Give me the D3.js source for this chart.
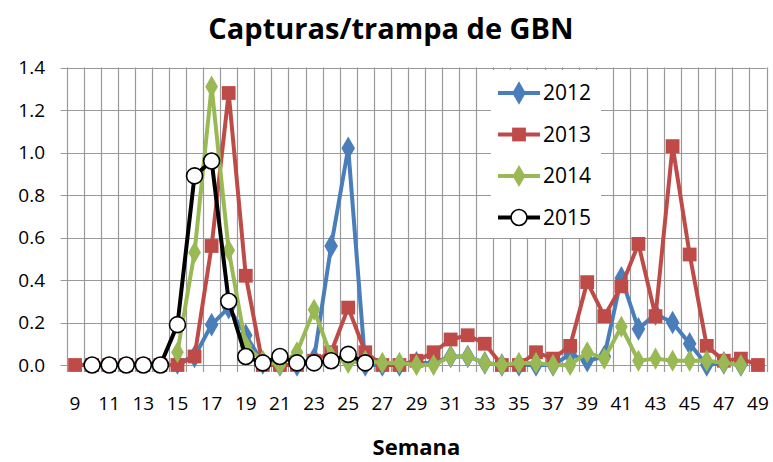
<!DOCTYPE html>
<html>
<head>
<meta charset="utf-8">
<script src="https://cdn.jsdelivr.net/npm/d3@7"></script>
<style>
  body { margin: 0; background: #fff; }
  text { font-family: "Open Sans", "Liberation Sans", sans-serif; fill: #000; }
</style>
</head>
<body>
<div id="chart"></div>
<script>
var weeks = [9, 10, 11, 12, 13, 14, 15, 16, 17, 18, 19, 20, 21, 22, 23, 24, 25, 26, 27, 28, 29,
             30, 31, 32, 33, 34, 35, 36, 37, 38, 39, 40, 41, 42, 43, 44, 45, 46, 47, 48, 49];
var weekLabels = [9, 11, 13, 15, 17, 19, 21, 23, 25, 27, 29, 31, 33, 35, 37, 39, 41, 43, 45, 47, 49];
var yTicks = [0, 0.2, 0.4, 0.6, 0.8, 1.0, 1.2, 1.4];

// values per week (9..49), null = no sample
var v2012 = [null, null, null, null, null, null, 0.01, 0.04, 0.19, 0.27, 0.14, 0.01, 0.0, 0.0, 0.03, 0.56, 1.02, 0.0, 0.0, 0.0, 0.01,
             0.01, 0.04, 0.04, 0.01, 0.0, 0.0, 0.0, 0.0, 0.05, 0.02, 0.04, 0.41, 0.17, 0.24, 0.20, 0.10, 0.0, 0.01, 0.0, null];
var v2013 = [0, 0, 0, 0, 0, 0, 0, 0.04, 0.56, 1.28, 0.42, 0.0, 0.0, 0.0, 0.02, 0.06, 0.27, 0.06, 0.0, 0.0, 0.02,
             0.06, 0.12, 0.14, 0.10, 0.0, 0.0, 0.06, 0.03, 0.09, 0.39, 0.23, 0.37, 0.57, 0.23, 1.03, 0.52, 0.09, 0.02, 0.03, 0.0];
var v2014 = [null, null, null, null, null, null, 0.06, 0.53, 1.31, 0.54, 0.09, 0.02, 0.0, 0.06, 0.26, 0.04, 0.01, 0.02, 0.01, 0.01, 0.0,
             0.0, 0.04, 0.04, 0.01, 0.0, 0.01, 0.01, 0.0, 0.0, 0.06, 0.03, 0.18, 0.02, 0.03, 0.02, 0.02, 0.02, 0.01, 0.0, null];
var v2015 = [null, 0, 0, 0, 0, 0, 0.19, 0.89, 0.96, 0.30, 0.04, 0.01, 0.04, 0.01, 0.01, 0.02, 0.05, 0.01, null, null, null,
             null, null, null, null, null, null, null, null, null, null, null, null, null, null, null, null, null, null, null, null];

var series = [
  { name: "2012", values: v2012, color: "#4a7ebb", marker: "diamond", size: 160 },
  { name: "2013", values: v2013, color: "#be4b48", marker: "square", size: 190 },
  { name: "2014", values: v2014, color: "#98b954", marker: "diamond", size: 140 },
  { name: "2015", values: v2015, color: "#000000", marker: "circle", size: 200 }
];

var width = 773, height = 462;
var plotLeft = 66.5, plotRight = 766.5, plotTop = 67.5, plotBottom = 365;

var svg = d3.select("#chart").append("svg")
    .attr("width", width)
    .attr("height", height);

var x = d3.scaleBand().domain(weeks).range([plotLeft, plotRight]).padding(0);
var y = d3.scaleLinear().domain([0, 1.4]).range([plotBottom, plotTop]);
var cx = function(w) { return x(w) + x.bandwidth() / 2; };

// horizontal gridlines
svg.append("g")
  .selectAll("line")
  .data(yTicks)
  .enter().append("line")
    .attr("x1", plotLeft - 6).attr("x2", plotRight)
    .attr("y1", function(d) { return Math.round(y(d)) + 0.5; })
    .attr("y2", function(d) { return Math.round(y(d)) + 0.5; })
    .attr("stroke", "#999")
    .attr("stroke-width", 1.2);

// vertical gridlines at category borders
var borders = weeks.map(function(w) { return x(w); }).concat([plotRight]);
svg.append("g")
  .selectAll("line")
  .data(borders)
  .enter().append("line")
    .attr("x1", function(d) { return Math.round(d) + 0.5; })
    .attr("x2", function(d) { return Math.round(d) + 0.5; })
    .attr("y1", plotTop).attr("y2", plotBottom + 7)
    .attr("stroke", "#999")
    .attr("stroke-width", 1.2);

// y tick labels
svg.append("g")
  .selectAll("text")
  .data(yTicks)
  .enter().append("text")
    .attr("x", 45)
    .attr("y", function(d) { return y(d); })
    .attr("dy", "0.35em")
    .attr("text-anchor", "end")
    .style("font-size", "19px")
    .text(d3.format(".1f"));

// x tick labels
svg.append("g")
  .selectAll("text")
  .data(weekLabels)
  .enter().append("text")
    .attr("x", function(d) { return cx(d); })
    .attr("y", 410)
    .attr("text-anchor", "middle")
    .style("font-size", "19px")
    .text(function(d) { return d; });

// titles
svg.append("text")
  .attr("x", 391).attr("y", 39)
  .attr("text-anchor", "middle")
  .style("font-size", "29px").style("font-weight", "bold")
  .text("Capturas/trampa de GBN");

svg.append("text")
  .attr("x", (plotLeft + plotRight) / 2).attr("y", 455)
  .attr("text-anchor", "middle")
  .style("font-size", "22px").style("font-weight", "bold")
  .text("Semana");

var symbolType = { diamond: d3.symbolDiamond, square: d3.symbolSquare, circle: d3.symbolCircle };

function drawMarker(sel, s) {
  sel.attr("d", d3.symbol().type(symbolType[s.marker]).size(s.size))
    .attr("fill", s.marker === "circle" ? "#fff" : s.color)
    .attr("stroke", s.marker === "circle" ? "#000" : "none")
    .attr("stroke-width", 1.6);
}

var line = d3.line()
  .defined(function(d) { return d.v !== null; })
  .x(function(d) { return cx(d.w); })
  .y(function(d) { return y(d.v); });

series.forEach(function(s) {
  var pts = weeks.map(function(w, i) { return { w: w, v: s.values[i] }; });
  var g = svg.append("g");
  g.append("path")
    .datum(pts)
    .attr("fill", "none")
    .attr("stroke", s.color)
    .attr("stroke-width", 4)
    .attr("stroke-linejoin", "round")
    .attr("d", line);
  g.selectAll("path.m")
    .data(pts.filter(function(d) { return d.v !== null; }))
    .enter().append("path")
      .attr("class", "m")
      .attr("transform", function(d) { return "translate(" + cx(d.w) + "," + y(d.v) + ")"; })
      .call(drawMarker, s);
});

// legend
var legend = svg.append("g").attr("transform", "translate(491,70)");
legend.append("rect")
  .attr("width", 110).attr("height", 168)
  .attr("fill", "#fff");

var item = legend.selectAll("g.item")
  .data(series)
  .enter().append("g")
    .attr("class", "item")
    .attr("transform", function(d, i) { return "translate(0," + (23 + i * 41.5) + ")"; });

item.append("line")
  .attr("x1", 7).attr("x2", 49)
  .attr("stroke", function(d) { return d.color; })
  .attr("stroke-width", 4);

item.append("path")
  .attr("transform", "translate(28,0)")
  .each(function(d) { d3.select(this).call(drawMarker, d); });

item.append("text")
  .attr("x", 52).attr("dy", "0.35em")
  .style("font-size", "21px")
  .text(function(d) { return d.name; });
</script>
</body>
</html>
